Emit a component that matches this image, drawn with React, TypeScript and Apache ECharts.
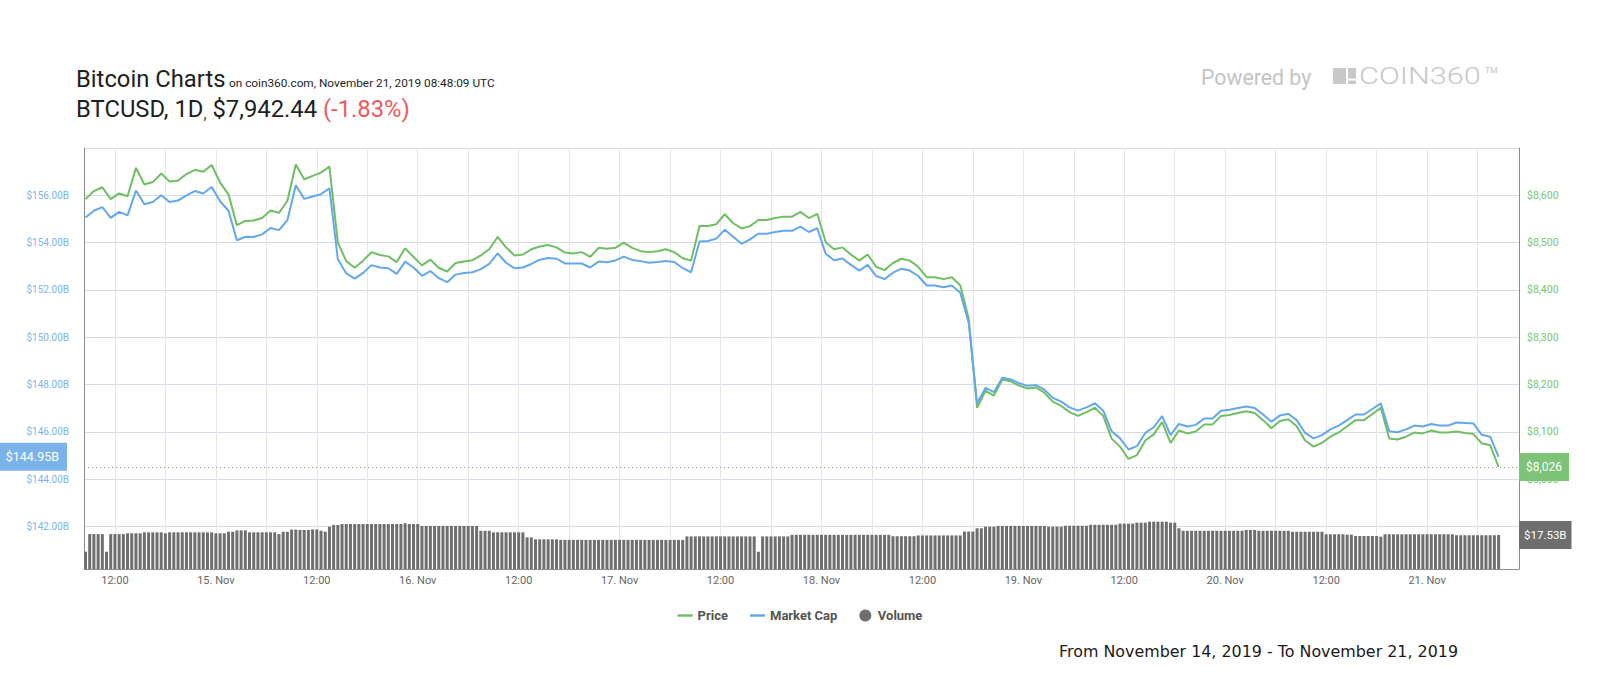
import React, { useEffect, useRef } from 'react';
import * as echarts from 'echarts';

// time of the first point (UTC) — hourly line points, 30-minute volume bars
const START = Date.UTC(2019, 10, 14, 8, 30);
const HOUR = 3600000;
const MONTHS = ['Jan', 'Feb', 'Mar', 'Apr', 'May', 'Jun', 'Jul', 'Aug', 'Sep', 'Oct', 'Nov', 'Dec'];

// BTC price in USD, hourly
const PRICE = [
  8592, 8609, 8617, 8592, 8604, 8598, 8658, 8623, 8628, 8646,
  8629, 8631, 8645, 8654, 8650, 8664, 8627, 8602, 8537, 8546,
  8547, 8552, 8568, 8563, 8588, 8665, 8634, 8641, 8648, 8661,
  8500, 8461, 8447, 8462, 8480, 8474, 8471, 8459, 8488, 8470,
  8452, 8464, 8447, 8439, 8457, 8460, 8463, 8473, 8486, 8512,
  8490, 8473, 8475, 8486, 8492, 8495, 8490, 8479, 8477, 8480,
  8470, 8489, 8487, 8489, 8500, 8489, 8482, 8480, 8482, 8486,
  8480, 8467, 8462, 8535, 8535, 8539, 8560, 8541, 8530, 8535,
  8548, 8548, 8552, 8555, 8555, 8565, 8552, 8561, 8501, 8486,
  8490, 8475, 8462, 8475, 8449, 8442, 8457, 8466, 8462, 8449,
  8427, 8427, 8423, 8427, 8410, 8340, 8151, 8187, 8177, 8211,
  8207, 8198, 8192, 8194, 8183, 8164, 8155, 8142, 8134, 8142,
  8151, 8134, 8086, 8069, 8043, 8051, 8082, 8095, 8121, 8077,
  8103, 8097, 8101, 8116, 8116, 8134, 8136, 8140, 8144, 8140,
  8125, 8108, 8123, 8127, 8112, 8082, 8069, 8077, 8090, 8099,
  8112, 8125, 8125, 8138, 8151, 8086, 8084, 8090, 8099, 8097,
  8103, 8099, 8099, 8101, 8098, 8096, 8076, 8072, 8026,
];

// market cap in billions USD, hourly
const MCAP = [
  155.06, 155.35, 155.5, 155.05, 155.3, 155.15, 156.2, 155.62, 155.72, 156.0,
  155.72, 155.78, 156.0, 156.18, 156.08, 156.35, 155.75, 155.35, 154.1, 154.25,
  154.24, 154.35, 154.62, 154.53, 154.95, 156.43, 155.85, 155.95, 156.05, 156.3,
  153.3, 152.7, 152.48, 152.72, 153.05, 152.95, 152.92, 152.68, 153.2, 152.95,
  152.6, 152.8, 152.5, 152.33, 152.65, 152.72, 152.75, 152.88, 153.1, 153.55,
  153.15, 152.92, 152.95, 153.1, 153.28, 153.35, 153.32, 153.12, 153.12, 153.12,
  152.95, 153.2, 153.17, 153.25, 153.41, 153.27, 153.22, 153.15, 153.18, 153.22,
  153.18, 152.92, 152.75, 154.05, 154.07, 154.17, 154.55, 154.25, 153.95, 154.14,
  154.38, 154.38, 154.45, 154.5, 154.5, 154.68, 154.45, 154.61, 153.53, 153.26,
  153.33, 153.06, 152.82, 153.06, 152.59, 152.46, 152.73, 152.9, 152.82, 152.59,
  152.19, 152.19, 152.12, 152.19, 151.88, 150.62, 147.21, 147.86, 147.68, 148.29,
  148.22, 148.06, 147.95, 147.98, 147.79, 147.44, 147.28, 147.04, 146.9, 147.04,
  147.21, 146.9, 146.03, 145.73, 145.26, 145.4, 145.96, 146.2, 146.67, 145.87,
  146.34, 146.23, 146.3, 146.57, 146.57, 146.9, 146.94, 147.01, 147.08, 147.01,
  146.74, 146.43, 146.7, 146.77, 146.5, 145.96, 145.73, 145.87, 146.11, 146.27,
  146.5, 146.74, 146.74, 146.97, 147.21, 146.03, 145.99, 146.11, 146.27, 146.23,
  146.34, 146.27, 146.27, 146.4, 146.38, 146.36, 145.88, 145.8, 144.95,
];

// 24h volume in billions USD, every 30 minutes
const VOLUME = [
  8.9, 18.0, 18.0, 18.0, 18.0, 8.9, 18.0, 18.0, 18.0, 18.0,
  18.4, 18.4, 18.4, 18.4, 18.9, 18.9, 18.9, 18.9, 18.9, 18.4,
  18.9, 18.9, 18.9, 18.9, 18.9, 18.9, 18.9, 18.9, 18.9, 18.9,
  18.9, 18.4, 18.4, 18.4, 19.2, 19.2, 19.9, 19.9, 19.9, 18.9,
  18.9, 18.9, 18.9, 18.9, 18.9, 18.9, 18.0, 19.2, 19.2, 20.3,
  20.3, 20.1, 20.1, 20.1, 20.4, 20.4, 19.7, 19.2, 21.8, 22.7,
  22.7, 23.2, 23.2, 23.2, 23.2, 23.2, 23.2, 23.2, 23.2, 23.2,
  23.2, 23.2, 23.2, 23.2, 23.2, 23.2, 23.6, 23.2, 23.2, 23.2,
  22.2, 22.2, 22.2, 22.2, 22.2, 22.2, 22.2, 22.2, 22.2, 22.2,
  22.2, 22.2, 22.2, 22.2, 19.7, 19.7, 19.7, 18.9, 18.9, 18.9,
  18.9, 18.9, 18.9, 18.9, 18.9, 16.3, 16.3, 15.3, 15.3, 15.3,
  15.3, 15.3, 15.3, 15.0, 15.0, 15.0, 15.0, 15.0, 15.0, 15.0,
  15.0, 15.0, 15.0, 15.0, 15.0, 15.0, 15.0, 15.0, 15.0, 15.0,
  15.0, 15.0, 15.0, 15.0, 15.0, 15.0, 15.0, 15.0, 15.0, 15.0,
  15.0, 15.0, 15.0, 16.8, 16.8, 16.8, 16.8, 16.8, 16.8, 16.8,
  16.8, 16.8, 16.8, 16.8, 16.8, 16.8, 16.8, 16.8, 16.8, 16.8,
  8.9, 16.8, 16.8, 16.8, 16.8, 16.8, 16.8, 16.8, 17.6, 17.6,
  17.6, 17.6, 17.6, 17.6, 17.6, 17.6, 17.6, 17.6, 17.6, 17.6,
  17.6, 17.6, 17.6, 17.6, 17.6, 17.6, 17.6, 17.6, 17.6, 17.6,
  17.6, 17.6, 16.9, 16.9, 16.9, 16.9, 16.9, 16.9, 17.3, 17.3,
  17.3, 17.3, 17.3, 17.3, 17.3, 17.3, 17.3, 17.3, 17.3, 19.3,
  19.3, 19.3, 21.0, 21.0, 21.8, 21.8, 21.8, 22.2, 22.2, 22.2,
  22.2, 22.2, 22.2, 22.2, 22.2, 22.2, 22.2, 22.2, 22.2, 21.8,
  21.8, 21.8, 21.8, 22.3, 22.3, 22.3, 22.3, 22.3, 22.3, 22.8,
  22.8, 22.8, 22.8, 22.8, 22.8, 22.8, 23.4, 23.4, 23.4, 23.4,
  23.9, 23.9, 23.9, 24.4, 24.4, 24.4, 24.4, 24.4, 23.9, 23.9,
  21.0, 19.7, 19.7, 19.7, 19.7, 19.7, 19.7, 19.7, 19.7, 19.7,
  19.7, 19.7, 19.7, 19.7, 19.7, 19.7, 20.1, 20.1, 20.1, 19.7,
  19.7, 19.7, 19.7, 19.7, 19.7, 19.7, 19.7, 19.2, 19.2, 19.2,
  19.2, 19.2, 19.2, 19.2, 19.2, 17.9, 17.9, 17.9, 17.9, 17.9,
  17.7, 17.7, 17.0, 17.0, 17.0, 17.0, 17.0, 17.0, 16.7, 17.9,
  17.9, 17.9, 17.9, 17.9, 17.9, 17.9, 17.9, 17.9, 17.9, 17.9,
  17.9, 17.9, 17.9, 17.9, 17.9, 17.9, 17.4, 17.4, 17.4, 17.4,
  17.4, 17.4, 17.4, 17.4, 17.4, 17.4, 17.53,
];

const FONT = 'Roboto';
const LINE_ICON = 'path://M0,0 L16,0 L16,2.6 L0,2.6 Z';

function xLabel(value: number): string {
  const d = new Date(value);
  if (d.getUTCMinutes() !== 0 || d.getUTCSeconds() !== 0) return '';
  const h = d.getUTCHours();
  if (h === 12) return '12:00';
  if (h === 0) return d.getUTCDate() + '. ' + MONTHS[d.getUTCMonth()];
  return '';
}

export default function App() {
  const ref = useRef<HTMLDivElement>(null);

  useEffect(() => {
    if (!ref.current) return;
    const chart = echarts.init(ref.current, null, { renderer: 'svg' });

    const priceData = PRICE.map((v, i) => [START + i * HOUR, v]);
    const mcapData = MCAP.map((v, i) => [START + i * HOUR, v]);
    const volData = VOLUME.map((v, k) => [START + (k * HOUR) / 2, v]);
    const lastPrice = PRICE[PRICE.length - 1];
    const lastMcap = MCAP[MCAP.length - 1];
    const lastVol = VOLUME[VOLUME.length - 1];

    const boxLabel = (bg: string, fontSize: number, padX: number) => ({
      show: true,
      backgroundColor: bg,
      color: '#ffffff',
      fontSize,
      fontFamily: FONT,
      lineHeight: 14,
      padding: [7, padX, 7, padX],
      borderRadius: 0,
      opacity: 1,
    });

    const hiddenLine = { color: 'rgba(255,255,255,0)', width: 1, type: 'solid' };

    const option: any = {
      animation: false,
      useUTC: true,
      backgroundColor: '#ffffff',
      textStyle: { fontFamily: FONT },
      grid: {
        left: 84,
        right: 81,
        top: 148,
        bottom: 131,
        containLabel: false,
        outerBoundsMode: 'none',
      },
      legend: {
        top: 604,
        left: 'center',
        itemWidth: 15,
        itemHeight: 12,
        itemGap: 22,
        selectedMode: false,
        textStyle: { color: '#555555', fontWeight: 'bold', fontSize: 13, fontFamily: FONT },
        data: [
          { name: 'Price', icon: LINE_ICON },
          { name: 'Market Cap', icon: LINE_ICON },
          { name: 'Volume', icon: 'circle' },
        ],
      },
      xAxis: {
        type: 'time',
        min: START,
        max: START + 170.25 * HOUR,
        splitNumber: 14,
        minInterval: 12 * HOUR,
        maxInterval: 12 * HOUR,
        axisLine: { show: true, lineStyle: { color: '#8c8c8c', width: 1 } },
        axisTick: { show: false },
        splitLine: { show: true, lineStyle: { color: '#e6e6e6', width: 1 } },
        axisLabel: {
          color: '#666666',
          fontSize: 11,
          fontFamily: FONT,
          margin: 6,
          hideOverlap: false,
          formatter: (v: number) => xLabel(v),
        },
      },
      yAxis: [
        {
          type: 'value',
          position: 'left',
          min: 140.21,
          max: 158,
          splitNumber: 9,
          minInterval: 2,
          maxInterval: 2,
          axisLine: { show: true, lineStyle: { color: '#8c8c8c', width: 1 } },
          axisTick: { show: false },
          splitLine: { show: true, lineStyle: { color: '#d3dce6', width: 1 } },
          axisLabel: {
            color: '#7cb5ec',
            fontSize: 10,
            fontFamily: FONT,
            margin: 15,
            formatter: (v: number) => (v > 141.9 && v < 156.1 ? '$' + v.toFixed(2) + 'B' : ''),
          },
        },
        {
          type: 'value',
          position: 'right',
          min: 7810.5,
          max: 8700,
          splitNumber: 9,
          minInterval: 100,
          maxInterval: 100,
          axisLine: { show: true, lineStyle: { color: '#8c8c8c', width: 1 } },
          axisTick: { show: false },
          splitLine: { show: false },
          axisLabel: {
            color: '#7bc46e',
            fontSize: 10.5,
            fontFamily: FONT,
            margin: 8,
            formatter: (v: number) => (v > 7999 && v < 8601 ? '$' + Math.round(v).toLocaleString('en-US') : ''),
          },
        },
        {
          type: 'value',
          min: 0,
          max: 217,
          show: false,
          splitLine: { show: false },
        },
      ],
      series: [
        {
          name: 'Volume',
          type: 'bar',
          yAxisIndex: 2,
          data: volData,
          barWidth: 3,
          itemStyle: { color: '#6e6e6e' },
          z: 1,
          markLine: {
            silent: true,
            symbol: ['none', 'none'],
            lineStyle: hiddenLine,
            label: {
              ...boxLabel('#6e6e6e', 11.5, 5),
              position: 'end',
              distance: 0,
              formatter: '$' + lastVol.toFixed(2) + 'B',
            },
            data: [{ yAxis: lastVol }],
          },
        },
        {
          name: 'Price',
          type: 'line',
          yAxisIndex: 1,
          data: priceData,
          symbol: 'none',
          smooth: false,
          lineStyle: { color: '#70be64', width: 2 },
          itemStyle: { color: '#70be64' },
          z: 3,
          markLine: {
            silent: true,
            symbol: ['none', 'none'],
            lineStyle: { type: [1, 3], color: '#999999', width: 1 },
            label: {
              ...boxLabel('#7dc378', 12, 7),
              position: 'end',
              distance: 0,
              formatter: '$' + lastPrice.toLocaleString('en-US'),
            },
            data: [{ yAxis: lastPrice }],
          },
        },
        {
          name: 'Market Cap',
          type: 'line',
          yAxisIndex: 0,
          data: mcapData,
          symbol: 'none',
          smooth: false,
          lineStyle: { color: '#64a8eb', width: 2 },
          itemStyle: { color: '#64a8eb' },
          z: 4,
          markLine: {
            silent: true,
            symbol: ['none', 'none'],
            lineStyle: hiddenLine,
            label: {
              ...boxLabel('#7ab2ea', 12.5, 8),
              position: 'start',
              distance: 17,
              formatter: '$' + lastMcap.toFixed(2) + 'B',
            },
            data: [{ yAxis: lastMcap }],
          },
        },
      ],
      graphic: [
        {
          type: 'text',
          x: 76,
          y: 79,
          style: {
            text: 'Bitcoin Charts',
            fontSize: 23.8,
            fontFamily: FONT,
            fill: '#1e1e1e',
            align: 'left',
            textAlign: 'left',
            verticalAlign: 'middle',
            textVerticalAlign: 'middle',
          },
        },
        {
          type: 'text',
          x: 229,
          y: 83,
          style: {
            text: 'on coin360.com, November 21, 2019 08:48:09 UTC',
            fontSize: 11.8,
            fontFamily: FONT,
            fill: '#1e1e1e',
            align: 'left',
            textAlign: 'left',
            verticalAlign: 'middle',
            textVerticalAlign: 'middle',
          },
        },
        {
          type: 'text',
          x: 76,
          y: 109,
          style: {
            text: '{a|BTCUSD, 1D}{b|,}{a| $7,942.44 }{r|(-1.83%)}',
            rich: {
              a: { fontSize: 23.8, fontFamily: FONT, fill: '#1e1e1e', color: '#1e1e1e', verticalAlign: 'bottom' },
              b: { fontSize: 16, fontFamily: FONT, fill: '#444444', color: '#444444', verticalAlign: 'bottom' },
              r: { fontSize: 23.8, fontFamily: FONT, fill: '#ee5a5a', color: '#ee5a5a', verticalAlign: 'bottom' },
            },
            align: 'left',
            textAlign: 'left',
            verticalAlign: 'middle',
            textVerticalAlign: 'middle',
          },
        },
        {
          type: 'text',
          x: 1201,
          y: 77.5,
          style: {
            text: 'Powered by',
            fontSize: 21.3,
            fontFamily: FONT,
            fill: '#c4c4c4',
            align: 'left',
            textAlign: 'left',
            verticalAlign: 'middle',
            textVerticalAlign: 'middle',
          },
        },
        { type: 'rect', shape: { x: 1333, y: 68, width: 13, height: 16 }, style: { fill: '#c8c8c8' } },
        { type: 'rect', shape: { x: 1348, y: 68, width: 8, height: 10.5 }, style: { fill: '#c8c8c8' } },
        { type: 'rect', shape: { x: 1348, y: 80.5, width: 8, height: 3.5 }, style: { fill: '#c8c8c8' } },
        {
          type: 'text',
          x: 1359,
          y: 76,
          scaleX: 1.28,
          style: {
            text: 'COIN360',
            fontSize: 24,
            fontWeight: 300,
            fontFamily: FONT,
            fill: '#c8c8c8',
            align: 'left',
            textAlign: 'left',
            verticalAlign: 'middle',
            textVerticalAlign: 'middle',
          },
        },
        {
          type: 'text',
          x: 1484,
          y: 76,
          style: {
            text: '™',
            fontSize: 24,
            fontWeight: 300,
            fontFamily: FONT,
            fill: '#c8c8c8',
            align: 'left',
            textAlign: 'left',
            verticalAlign: 'middle',
            textVerticalAlign: 'middle',
          },
        },
        {
          type: 'text',
          x: 1059,
          y: 651.5,
          style: {
            text: 'From November 14, 2019 - To November 21, 2019',
            fontSize: 15.9,
            fontFamily: 'DejaVu Sans',
            fill: '#1a1a1a',
            align: 'left',
            textAlign: 'left',
            verticalAlign: 'middle',
            textVerticalAlign: 'middle',
          },
        },
      ],
    };

    chart.setOption(option);
    return () => chart.dispose();
  }, []);

  return (
    <div
      ref={ref}
      style={{ position: 'fixed', left: 0, top: 0, width: 1600, height: 700, background: '#ffffff' }}
    />
  );
}
